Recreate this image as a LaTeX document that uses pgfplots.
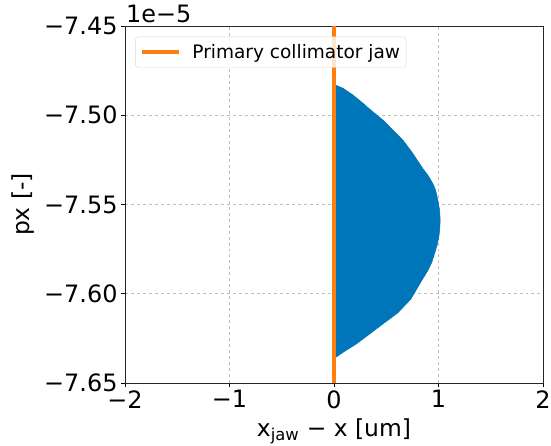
\documentclass[border=0pt]{standalone}
\usepackage{fontspec}
\setmainfont{DejaVu Sans}
\usepackage{pgfplots}
\pgfplotsset{compat=1.18}
\definecolor{mblue}{RGB}{0,118,186}
\definecolor{morange}{RGB}{255,127,14}
\begin{document}
\begin{tikzpicture}
\begin{axis}[
  name=main,
  scale only axis, width=418bp, height=357bp,
  xmin=-2, xmax=2, ymin=-7.65, ymax=-7.45,
  xtick={-2,-1,0,1,2}, xticklabels={−2,−1,0,1,2},
  ytick={-7.65,-7.60,-7.55,-7.50,-7.45},
  yticklabels={−7.65,−7.60,−7.55,−7.50,−7.45},
  tick label style={font=\fontsize{24}{28}\selectfont},
  grid=major, grid style={dashed, black!25, line width=0.6bp},
  tick align=outside, major tick length=4bp,
  tick style={black, line width=0.8bp},
  xtick pos=left, ytick pos=left,
  axis line style={line width=0.9bp, black!85},
  xlabel={x\textsubscript{jaw} − x [um]}, ylabel={px [-]},
  label style={font=\fontsize{23.5}{28}\selectfont},
  xlabel style={at={(axis description cs:0.5,-0.150)}, anchor=base},
  ylabel style={at={(axis description cs:-0.244,0.5)}, anchor=center},
  legend style={at={(rel axis cs:0.0245,0.97)}, anchor=north west,
    font=\fontsize{18.6}{22}\selectfont, draw=black!15, rounded corners=3bp,
    fill=white, fill opacity=0.8, text opacity=1, inner xsep=4bp, inner ysep=5.5bp},
  legend cell align=left,
  clip=true,
]
% phase-space region (px in units of 1e-5)
\addplot[fill=mblue, draw=mblue, line width=0.6bp, forget plot] coordinates {
  (0.000,-7.4832) (0.019,-7.4832) (0.089,-7.4850) (0.184,-7.4888)
  (0.279,-7.4934) (0.374,-7.4982) (0.470,-7.5028) (0.565,-7.5084)
  (0.660,-7.5140) (0.755,-7.5215) (0.850,-7.5299) (0.898,-7.5336)
  (0.946,-7.5383) (0.975,-7.5425) (0.993,-7.5476) (1.010,-7.5530)
  (1.016,-7.5589) (1.011,-7.5640) (1.003,-7.5682) (0.985,-7.5730)
  (0.962,-7.5775) (0.935,-7.5825) (0.898,-7.5869) (0.830,-7.5935)
  (0.735,-7.6030) (0.610,-7.6107) (0.475,-7.6166) (0.343,-7.6224)
  (0.216,-7.6280) (0.089,-7.6327) (0.019,-7.6355) (0.000,-7.6355)
  (0.000,-7.4832)
};
\addplot[morange, line width=4bp,
  legend image code/.code={\draw[morange, line width=3.5bp] (0bp,0bp) -- (37bp,0bp); \path (-1bp,0bp) (46bp,0bp);}]
  coordinates {(0,-7.65) (0,-7.45)};
\addlegendentry{Primary collimator jaw}
\end{axis}
\node[anchor=south west, inner sep=0pt, font=\fontsize{24}{28}\selectfont]
  at ([xshift=1bp,yshift=3bp]main.north west) {1e−5};
\pgfresetboundingbox
\useasboundingbox ([xshift=-125bp,yshift=-62bp]main.south west) rectangle ([xshift=8bp,yshift=26bp]main.north east);
\end{tikzpicture}
\end{document}
